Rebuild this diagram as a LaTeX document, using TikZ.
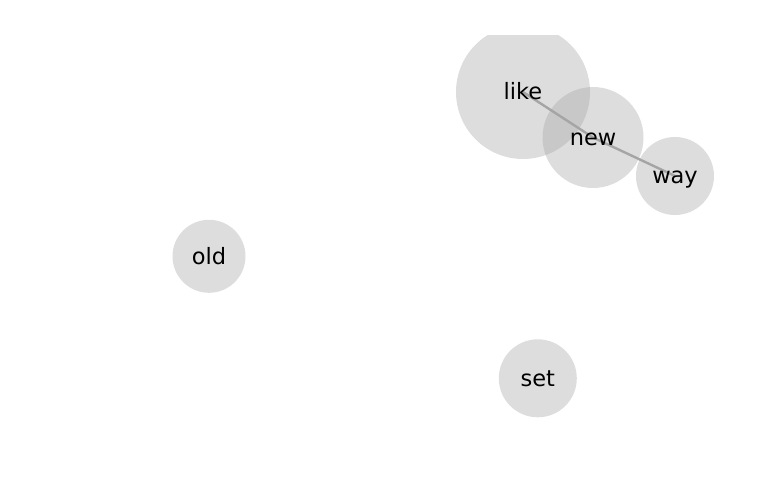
\documentclass[tikz,border=0pt]{standalone}
\usepackage{fontspec}
\setmainfont{DejaVu Sans}
\definecolor{nodegray}{RGB}{166,166,166}
\definecolor{edgegray}{RGB}{165,165,165}
\tikzset{
  bubble/.style={circle, fill=nodegray, fill opacity=0.38, draw=none, inner sep=0pt, minimum size=#1},
  edge/.style={draw=edgegray, line width=2.4pt},
  lbl/.style={font=\fontsize{22.5}{26}\selectfont, text=black, inner sep=0pt,
              text height=16.9pt, text depth=4.6pt, yshift=-1.8pt}
}
\begin{document}
\begin{tikzpicture}[x=1pt,y=-1pt]
\useasboundingbox (0,0) rectangle (769,500);
\begin{scope}
\clip (0,36) rectangle (769,500);
\node[bubble=134pt] (clike) at (523,92) {};
\node[bubble=101pt] (cnew) at (593,137.5) {};
\node[bubble=78pt] (cway) at (675,176) {};
\node[bubble=73pt] (cold) at (209,256.3) {};
\node[bubble=78pt] (cset) at (537.8,378.3) {};
\draw[edge] (clike.center) -- (cnew.center);
\draw[edge] (cnew.center) -- (cway.center);
\end{scope}
\node[lbl] (like) at (clike.center) {like};
\node[lbl] (new) at (cnew.center) {new};
\node[lbl] (way) at (cway.center) {way};
\node[lbl] (old) at (cold.center) {old};
\node[lbl] (set) at (cset.center) {set};
\end{tikzpicture}
\end{document}
